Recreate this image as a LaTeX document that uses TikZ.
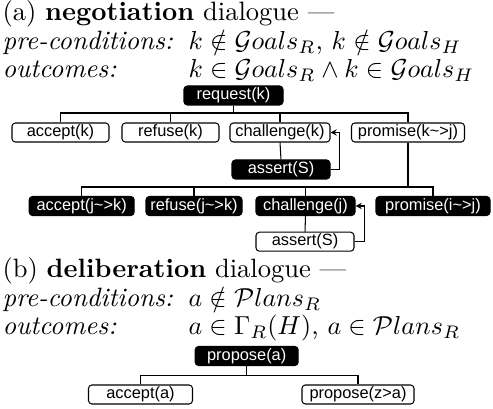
\documentclass[tikz,border=0pt]{standalone}
\usepackage{fontspec}
\newfontfamily\boxfont{Liberation Sans}
\usetikzlibrary{arrows.meta}
\begin{document}
\begin{tikzpicture}[x=0.3846pt,y=-0.3846pt,
  txt/.style={anchor=base west, inner sep=0pt, font=\fontsize{10.2}{12}\selectfont},
  wbox/.style={draw, rounded corners=1.3pt, line width=0.4pt, inner sep=0pt,
    minimum height=19*0.3846pt, font=\boxfont\fontsize{6.3}{7}\selectfont},
  bbox/.style={wbox, fill=black, text=white},
  bw/.style={minimum width=#1*0.3846pt},
  edge/.style={line width=0.4pt},
  back/.style={line width=0.4pt, -{Stealth[length=2.4pt,width=2.4pt]}}
]
\useasboundingbox (0,0) rectangle (493,409);
% (a) text
\node[txt] (ta) at (2,21) {(a) \textbf{negotiation} dialogue ---};
\node[txt] (pa) at (2,50) {\textit{pre-conditions:}};
\node[txt] (pam) at (188,50) {$k\notin\mathcal{G}oals_R$, $k\notin\mathcal{G}oals_H$};
\node[txt] (oa) at (2,78) {\textit{outcomes:}};
\node[txt] (oam) at (188,78) {$k\in\mathcal{G}oals_R\wedge k\in\mathcal{G}oals_H$};
% (a) tree
\node[bbox,bw=99] (req) at (233.5,95.5) {request(k)};
\node[wbox,bw=97] (acc1) at (60.5,132.5) {accept(k)};
\node[wbox,bw=97] (ref1) at (170.5,132.5) {refuse(k)};
\node[wbox,bw=100] (chal1) at (280,132.5) {challenge(k)};
\node[wbox,bw=113] (prom1) at (408,132.5) {promise(k\textasciitilde>j)};
\node[bbox,bw=98] (ass1) at (281,169.5) {assert(S)};
\node[bbox,bw=105] (acc2) at (81.7,206) {accept(j\textasciitilde>k)};
\node[bbox,bw=96] (ref2) at (194,206) {refuse(j\textasciitilde>k)};
\node[bbox,bw=99] (chal2) at (305.5,206) {challenge(j)};
\node[bbox,bw=114] (prom2) at (433,206) {promise(i\textasciitilde>j)};
\node[wbox,bw=98] (ass2) at (305,241.7) {assert(S)};
\coordinate (bus1) at (0,113);
\coordinate (bus2) at (0,187);
\foreach \c in {acc1,ref1,chal1,prom1}
  \draw[edge] (req.south) |- (\c.north |- bus1) -- (\c.north);
\draw[edge] (chal1.south) -- (ass1.north);
\foreach \c in {acc2,ref2,chal2,prom2}
  \draw[edge] (prom1.south) |- (\c.north |- bus2) -- (\c.north);
\draw[edge] (chal2.south) -- (ass2.north);
\draw[back] (ass1.east) -- ++(9,0) |- (chal1.east);
\draw[back] (ass2.east) -- ++(10,0) |- (chal2.east);
% (b) text
\node[txt] (tb) at (2,278) {(b) \textbf{deliberation} dialogue ---};
\node[txt] (pb) at (2,307) {\textit{pre-conditions:}};
\node[txt] (pbm) at (188,307) {$a\notin\mathcal{P}lans_R$};
\node[txt] (ob) at (2,335) {\textit{outcomes:}};
\node[txt] (obm) at (188,335) {$a\in\Gamma_R(H)$, $a\in\mathcal{P}lans_R$};
% (b) tree
\node[bbox,bw=103] (prop) at (246.7,356) {propose(a)};
\node[wbox,bw=104] (accb) at (140.5,394.5) {accept(a)};
\node[wbox,bw=112] (propz) at (358,394.5) {propose(z>a)};
\coordinate (bus3) at (0,375.7);
\foreach \c in {accb,propz}
  \draw[edge] (prop.south) |- (\c.north |- bus3) -- (\c.north);
\end{tikzpicture}
\end{document}
